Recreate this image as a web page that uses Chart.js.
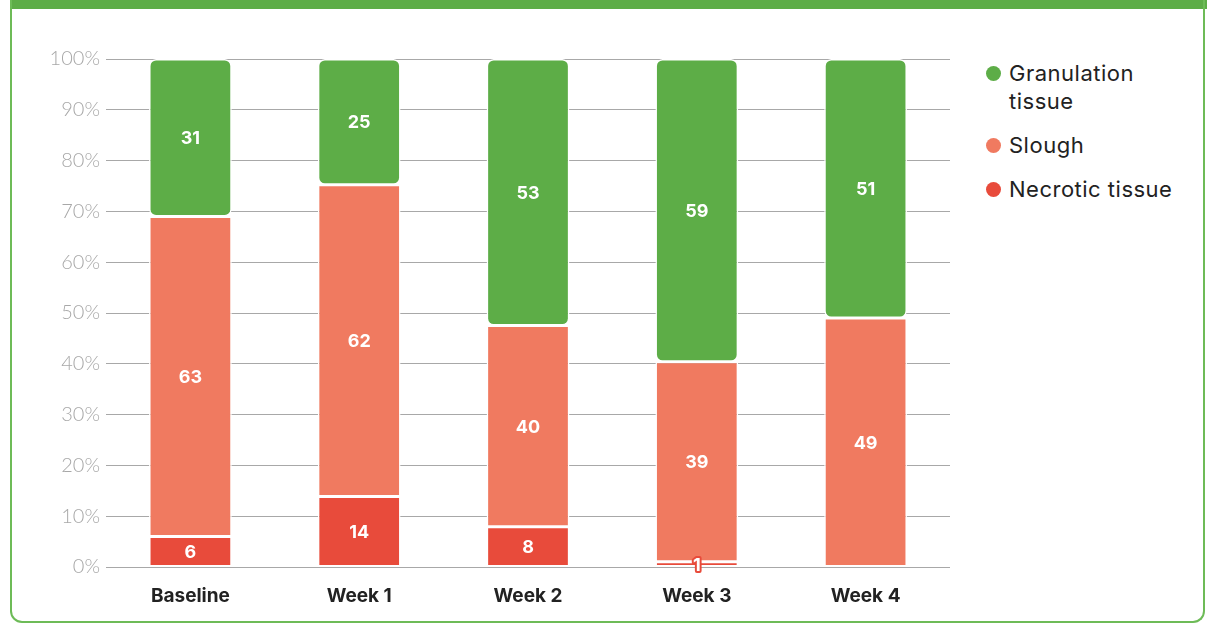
<!DOCTYPE html>
<html>
<head>
<meta charset="utf-8">
<script src="https://cdn.jsdelivr.net/npm/chart.js@4/dist/chart.umd.min.js"></script>
<style>
    body { margin: 0; background: #fff; width: 1207px; height: 624px; overflow: hidden; position: relative; font-family: "Inter", "Noto Sans", sans-serif; }
    #band { position: absolute; left: 10px; top: 0; width: 1197px; height: 9px; background: #5dad47; }
    #frame { position: absolute; left: 10px; top: 0; width: 1191px; height: 621px; border: 2px solid #6dbb57; border-top: none; border-radius: 0 0 12px 12px; }
    #wrap { position: absolute; left: 0; top: 0; width: 960px; height: 624px; }
    #legend { position: absolute; left: 986px; top: 59px; }
    .item { position: relative; padding-left: 23px; font-size: 22px; letter-spacing: 0.5px; line-height: 28px; color: #222; margin-bottom: 16px; }
    .dot { position: absolute; left: 0; top: 7px; width: 15px; height: 15px; border-radius: 50%; }
</style>
</head>
<body>
<div id="band"></div>
<div id="frame"></div>
<div id="wrap"><canvas id="chart"></canvas></div>
<div id="legend"></div>
<script>
    "use strict";

    var weeks = ["Baseline", "Week 1", "Week 2", "Week 3", "Week 4"];
    var necrotic = [6, 14, 8, 1, 0];
    var slough = [63, 62, 40, 39, 49];
    var granulation = [31, 25, 53, 59, 51];
    var yTicks = [0, 10, 20, 30, 40, 50, 60, 70, 80, 90, 100];

    var green = "#5dad47", salmon = "#f07a60", red = "#e84b3b";

    // bars are drawn as share of each week's total, labels keep the raw numbers
    var totals = [];
    for (var t = 0; t < weeks.length; t++)
        totals.push(necrotic[t] + slough[t] + granulation[t]);

    function toShare(arr) {
        return arr.map(function (v, j) { return v / totals[j] * 100; });
    }

    var legendItems = [
        {text: "Granulation<br>tissue", color: green},
        {text: "Slough", color: salmon},
        {text: "Necrotic tissue", color: red}
    ];
    var lg = document.getElementById("legend");
    for (var i = 0; i < legendItems.length; i++) {
        lg.innerHTML += '<div class="item"><span class="dot" style="background:' + legendItems[i].color + '"></span>' + legendItems[i].text + '</div>';
    }

    var valueLabels = {
        id: "valueLabels",
        afterDatasetsDraw: function (chart) {
            var ctx = chart.ctx;
            ctx.save();
            ctx.font = "bold 18px Inter, 'Noto Sans', sans-serif";
            ctx.textAlign = "center";
            ctx.textBaseline = "middle";
            chart.data.datasets.forEach(function (ds, d) {
                var meta = chart.getDatasetMeta(d);
                meta.data.forEach(function (bar, j) {
                    var v = ds.raw[j];
                    if (!v) return;
                    var y = (bar.y + bar.base) / 2;
                    if (Math.abs(bar.base - bar.y) < 20) {
                        ctx.lineWidth = 4;
                        ctx.lineJoin = "round";
                        ctx.strokeStyle = red;
                        ctx.strokeText(v, bar.x, y + 1);
                    }
                    ctx.fillStyle = "#fff";
                    ctx.fillText(v, bar.x, y + 1);
                });
            });
            ctx.restore();
        }
    };

    function makeSet(label, data, color) {
        return {
            label: label,
            data: toShare(data),
            raw: data,
            backgroundColor: color,
            borderColor: "#fff",
            borderWidth: 1.5,
            borderRadius: 7,
            borderSkipped: false,
            barPercentage: 0.49,
            categoryPercentage: 1
        };
    }

    new Chart(document.getElementById("chart"), {
        type: "bar",
        data: {
            labels: weeks,
            datasets: [
                makeSet("Necrotic tissue", necrotic, red),
                makeSet("Slough", slough, salmon),
                makeSet("Granulation tissue", granulation, green)
            ]
        },
        options: {
            responsive: true,
            maintainAspectRatio: false,
            animation: false,
            layout: {padding: {left: 0, right: 10, top: 59, bottom: 13}},
            plugins: {legend: {display: false}, tooltip: {enabled: false}},
            scales: {
                x: {
                    stacked: true,
                    afterFit: function (scale) { scale.height = 44; },
                    grid: {display: false},
                    border: {display: false},
                    ticks: {color: "#222", font: {family: "Inter", size: 19, weight: "bold"}, padding: 10}
                },
                y: {
                    stacked: true,
                    min: 0,
                    max: 100,
                    afterFit: function (scale) { scale.width = 106; },
                    afterBuildTicks: function (scale) {
                        scale.ticks = yTicks.map(function (v) { return {value: v}; });
                    },
                    grid: {color: "#a8a8a8", lineWidth: 1, drawTicks: false},
                    border: {display: false},
                    ticks: {
                        color: "#a8a8a8",
                        padding: 6,
                        font: {family: "Lato", size: 20, weight: 300},
                        callback: function (v) { return v + "%"; }
                    }
                }
            }
        },
        plugins: [valueLabels]
    });
</script>
</body>
</html>
